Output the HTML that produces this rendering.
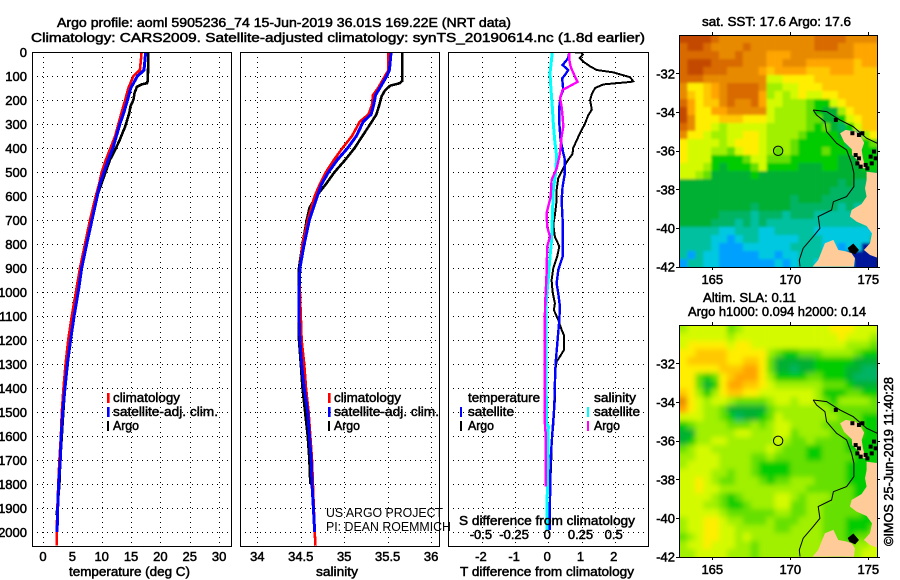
<!DOCTYPE html>
<html>
<head>
<meta charset="utf-8">
<title>Argo profile</title>
<style>
html,body{margin:0;padding:0;background:#fff;width:900px;height:580px;overflow:hidden}
svg{display:block}
text{font-family:"Liberation Sans",sans-serif;font-size:13px;fill:#000;stroke:#000;stroke-width:.5px}
</style>
</head>
<body>
<svg id="chart" xmlns="http://www.w3.org/2000/svg" width="900" height="580" viewBox="0 0 900 580">
<defs>
<clipPath id="clip-t"><rect x="32" y="52" width="199" height="494"/></clipPath>
<clipPath id="clip-s"><rect x="240" y="52" width="199" height="494"/></clipPath>
<clipPath id="clip-d"><rect x="448" y="52" width="200" height="494"/></clipPath>
<clipPath id="clip-m1"><rect x="679.5" y="35" width="198" height="232"/></clipPath>
<clipPath id="clip-m2"><rect x="679.5" y="325" width="198" height="232"/></clipPath>
<filter id="soft-sst" x="-5%" y="-5%" width="110%" height="110%"><feGaussianBlur stdDeviation="1.4"/></filter>
<filter id="soft-sla" x="-5%" y="-5%" width="110%" height="110%"><feGaussianBlur stdDeviation="2.6"/></filter>
</defs>
</svg>
<script>
// ---- profile data ----
const tempDepthArgo=[0,120,130,135,145,170,200,226,254,310,365,407,450,505,587,670,754,851,962,1000,1100,1200,1300,1400,1500,1600,1700,1800,1900,1930];
const tempArgo=[17.95,17.85,17.7,16.8,16.0,15.6,15.4,14.9,14.7,14.0,13.1,12.3,11.4,10.6,9.4,8.6,7.7,6.9,6.2,5.9,5.28,4.6,4.2,3.75,3.45,3.2,2.95,2.8,2.45,2.3];
const tempDepthClim=[0,30,75,100,150,200,250,300,350,400,450,500,550,600,700,800,900,1000,1100,1200,1300,1400,1500,1600,1700,1800,1900,2000,2057];
const tempClim=[16.8,16.7,16.5,15.4,14.55,14.0,13.4,12.85,12.3,11.5,10.7,10.0,9.55,9.0,8.0,7.15,6.3,5.6,4.9,4.3,3.85,3.5,3.2,3.05,2.8,2.6,2.45,2.33,2.33];
const tempDepthSat=[0,75,85,100,150,200,250,300,350,400,450,500,550,600,700,800,900,1000,1100,1200,1300,1400,1500,1600,1700,1800,1900,2000];
const tempSat=[17.5,17.2,16.8,16.1,14.95,14.4,13.8,13.1,12.5,11.9,11.1,10.4,9.7,9.25,8.35,7.45,6.6,6.0,5.3,4.7,4.15,3.75,3.35,3.1,2.95,2.65,2.5,2.4];

const salDepthArgo=[0,120,130,140,160,185,225,260,300,350,400,450,500,550,600,650,700,800,900,1000,1100,1200,1300,1400,1500,1600,1700,1800];
const salArgo=[35.67,35.67,35.64,35.53,35.47,35.43,35.4,35.37,35.3,35.21,35.12,35.01,34.89,34.79,34.68,34.6,34.57,34.52,34.48,34.48,34.48,34.48,34.5,34.52,34.55,34.58,34.6,34.61];
const salDepthClim=[0,75,100,150,180,220,260,290,350,400,450,500,550,600,700,800,900,1000,1100,1200,1300,1400,1500,1600,1700,1800,1900,2000,2057];
const salClim=[35.51,35.51,35.47,35.39,35.33,35.32,35.28,35.18,35.09,34.98,34.88,34.79,34.72,34.66,34.58,34.52,34.49,34.49,34.5,34.51,34.54,34.56,34.59,34.61,34.63,34.64,34.65,34.66,34.67];
const salDepthSat=[0,75,100,150,180,220,260,290,350,400,450,500,550,600,700,800,900,1000,1100,1200,1300,1400,1500,1600,1700,1800,1900,2000];
const salSat=[35.54,35.52,35.49,35.41,35.36,35.34,35.31,35.22,35.14,35.04,34.92,34.82,34.74,34.69,34.6,34.54,34.49,34.48,34.48,34.49,34.51,34.54,34.58,34.6,34.62,34.63,34.645,34.66];

const diffDepthArgoT=[0,3,10,25,40,60,75,85,105,122,125,135,150,175,200,240,265,300,340,370,400,425,455,485,525,575,620,680,720,770,810,850,900,950,1000,1047,1075,1117,1158,1179,1242,1269,1290,1339,1450,1554,1630,1755];
const diffArgoT=[0.7,1.0,1.04,0.95,1.05,1.26,1.46,1.96,2.46,2.56,2.46,1.66,1.41,1.31,1.26,1.31,1.2,1.1,0.95,0.85,0.75,0.73,0.57,0.45,0.3,0.25,0.25,0.2,0.15,0.2,0.33,0.27,0.15,0.1,0.13,0.2,0.17,0.3,0.4,0.47,0.47,0.35,0.25,0.2,0.2,0.15,0.1,0.08];
const diffDepthSatT=[3,26,54,75,96,110,158,186,228,297,367,408,450,505,561,617,700,853,908,964,1006,1061,1117,1214,1297,1380,1478,1589,1700,1866,1991];
const diffSatT=[0.63,0.6,0.43,0.6,0.5,0.42,0.45,0.37,0.33,0.33,0.37,0.43,0.5,0.5,0.43,0.4,0.43,0.43,0.3,0.25,0.3,0.35,0.33,0.27,0.22,0.2,0.18,0.12,0.07,0.05,0.04];
const diffDepthArgoS=[3,33,61,89,124,138,158,193,228,269,311,353,394,436,485,533,603,672,728,769,811,922,1061,1311,1519,1575,1589,1811];
const diffArgoS=[0.158,0.158,0.168,0.19,0.22,0.176,0.108,0.088,0.1,0.108,0.113,0.1,0.093,0.083,0.063,0.025,0.018,-0.013,-0.008,0.013,-0.008,-0.013,-0.025,-0.028,-0.028,-0.023,-0.018,-0.018];
const diffDepthSatS=[3,89,158,228,297,367,436,505,575,644,783,853,922,992,1061,1311,1547,1561,1728,1866,1991];
const diffSatS=[0.03,0.0125,0.02,0.03,0.038,0.048,0.063,0.055,0.038,0.033,0.025,0.0125,0.003,-0.008,-0.018,-0.018,-0.013,0,-0.005,-0.008,-0.008];

// ---- tick labels ----
const depthTicks=[0,100,200,300,400,500,600,700,800,900,1000,1100,1200,1300,1400,1500,1600,1700,1800,1900,2000];
const tempTicks=[0,5,10,15,20,25,30];
const salTicks=[34,34.5,35,35.5,36];
const diffTicks=[-2,-1,0,1,2];
const diffTickLabels=["-2","-1","0","1","2"];
const sDiffTicks=[-0.5,-0.25,0,0.25,0.5];
const sDiffTickLabels=["-0.5","-0.25","0","0.25","0.5"];
const lonTicks=[165,170,175];
const latTicks=[-32,-34,-36,-38,-40,-42];
const profileLon=[169.22];
const profileLat=[-36.01];

// ---- map data: colour level per cell, north to south ----
const levelColors=["#00129a","#00a0ff","#00c8e0","#00c0a0","#00b464","#00b030","#00cc00","#66e000","#a0f000","#d4fa00","#ffee00","#ffc800","#ffa500","#e88a00","#d86a00","#c44a00"];
const sstGrid=[
[15,15,15,15,14,13,13,13,13,13,13,13,13,13,13,13,13,14,14,14,14,13,13,13,13],
[14,15,15,14,13,13,13,13,14,13,13,13,13,13,13,13,13,14,14,14,13,13,12,12,12],
[14,14,14,14,14,13,13,14,13,13,13,12,12,12,13,13,13,13,13,13,13,13,12,12,12],
[14,15,15,15,14,14,14,14,13,13,13,12,12,13,13,13,12,12,12,12,12,12,11,12,12],
[14,15,15,14,14,14,13,13,13,13,12,11,12,12,12,12,11,11,11,12,12,12,11,11,11],
[14,14,14,13,13,13,13,13,13,13,13,9,9,10,10,10,10,11,11,11,11,11,11,11,11],
[13,10,10,11,12,13,14,14,14,14,13,8,8,9,9,10,10,10,11,11,11,11,11,11,11],
[13,11,10,11,12,13,14,14,14,14,12,8,9,8,9,10,9,9,10,10,11,11,11,11,11],
[14,12,10,11,11,13,14,13,13,14,12,9,9,8,8,8,7,6,6,9,10,11,11,11,11],
[15,12,10,10,12,12,13,13,13,13,13,9,8,8,8,8,7,6,5,5,8,10,11,11,11],
[15,13,10,10,10,11,11,11,10,10,10,9,8,8,8,8,7,7,5,5,6,9,10,11,11],
[14,13,10,10,9,8,9,9,9,9,9,8,8,8,8,8,7,6,7,5,4,6,9,11,11],
[13,10,10,9,8,8,9,9,10,10,9,8,8,8,8,7,6,6,6,6,5,4,4,8,10],
[10,9,9,9,9,8,9,10,10,10,9,8,8,8,7,6,6,6,6,6,6,4,4,6,7],
[10,9,9,9,8,8,7,9,10,10,9,8,7,8,7,6,6,6,7,6,6,6,5,6,6],
[10,9,9,9,6,6,6,6,7,9,9,7,7,7,6,6,6,6,6,6,5,5,5,6,6],
[9,9,9,8,6,5,6,6,6,7,9,6,6,6,6,5,5,5,6,6,5,5,5,6,6],
[9,9,8,7,5,5,5,5,5,6,5,5,5,5,5,5,5,5,5,5,5,5,5,5,5],
[5,5,5,5,5,5,5,5,5,5,5,5,5,5,5,5,5,5,5,5,4,5,4,4,4],
[5,5,5,5,5,5,5,5,5,5,5,5,5,5,5,5,5,5,5,4,4,4,4,4,4],
[5,5,5,5,5,5,5,5,5,5,5,5,5,5,4,5,5,5,4,4,4,4,4,4,4],
[5,5,5,5,5,5,5,5,5,4,5,5,5,5,4,4,4,4,4,4,3,4,3,3,3],
[5,5,5,5,5,4,4,4,4,3,4,4,4,3,4,4,4,3,3,3,3,3,3,3,3],
[5,5,5,5,4,4,4,3,4,3,4,3,3,3,3,3,3,3,3,3,3,3,3,3,3],
[3,3,3,3,3,2,2,3,3,3,2,2,3,3,3,3,3,2,2,2,2,2,2,2,2],
[3,3,3,3,2,2,1,2,3,3,2,2,2,2,2,3,3,3,2,2,2,2,2,2,3],
[3,3,3,3,2,1,1,1,2,2,2,2,2,2,3,3,3,3,2,2,1,2,2,0,0],
[3,1,3,2,2,1,1,1,1,1,2,2,1,2,2,3,3,3,3,2,2,0,0,0,0],
[1,3,3,2,2,1,1,1,1,1,1,1,2,1,2,3,3,2,2,3,3,2,0,0,0]
];
const slaGrid=[
[8,9,9,9,9,9,7,8,9,9,9,9,9,9,9,9,9,9,9,10,10,10,9,9,9],
[9,9,9,9,9,9,8,9,9,9,9,9,9,9,9,9,9,9,9,9,10,9,9,9,8],
[9,10,10,10,10,10,9,10,10,9,9,9,9,9,9,9,9,9,9,9,9,8,8,8,7],
[10,10,11,11,11,11,10,10,10,10,10,8,7,6,6,7,7,7,8,8,8,8,7,6,6],
[10,11,11,11,11,11,10,10,11,11,10,7,5,5,5,5,5,6,6,6,6,6,5,5,5],
[10,10,10,10,10,11,11,11,12,12,10,7,5,5,4,5,5,6,6,6,6,5,5,4,4],
[10,10,7,6,7,10,11,12,12,12,10,8,6,6,6,6,7,7,6,6,6,5,4,4,4],
[10,10,7,5,6,10,12,12,11,11,10,9,8,8,8,8,8,8,7,7,7,6,5,5,5],
[11,10,8,6,8,10,11,11,10,10,9,9,9,9,9,9,9,8,6,6,6,7,7,6,6],
[13,10,9,8,9,9,8,7,7,7,7,8,9,9,8,9,9,8,7,6,8,8,8,8,7],
[12,10,9,8,8,7,5,5,5,5,5,7,8,8,8,8,8,8,8,7,7,7,7,7,7],
[9,9,9,8,8,7,6,4,5,5,6,7,9,8,8,8,8,8,8,8,7,7,7,6,6],
[6,7,8,8,8,8,7,7,7,8,7,8,9,9,8,8,8,8,7,7,7,7,7,6,6],
[5,5,8,8,8,8,8,9,9,8,8,8,9,9,7,8,8,8,8,7,7,7,7,6,6],
[5,6,8,8,9,9,8,8,8,8,8,8,9,8,7,7,8,7,7,7,7,6,6,6,6],
[7,8,9,9,8,8,8,8,8,8,8,9,8,7,7,7,6,6,7,7,7,6,6,6,6],
[8,8,9,9,9,8,8,8,8,7,7,8,7,7,7,7,6,6,7,7,7,7,6,6,6],
[8,9,9,9,9,8,8,8,8,7,6,6,6,6,7,7,7,7,7,7,7,6,6,6,6],
[9,9,9,9,8,8,7,8,8,7,6,6,6,6,7,7,7,7,7,7,7,6,6,6,6],
[9,9,10,9,8,7,7,8,8,8,7,6,7,7,8,8,8,7,7,7,7,6,6,6,6],
[9,9,10,9,9,8,8,8,8,8,8,8,8,8,8,8,7,7,7,7,7,7,6,6,6],
[9,9,9,9,8,7,6,7,8,8,8,8,9,9,8,7,8,8,8,7,7,7,6,6,6],
[9,9,9,8,8,7,6,6,7,8,8,8,9,9,7,7,8,8,7,7,7,7,7,6,6],
[9,9,9,9,9,8,7,7,7,7,7,7,8,8,7,7,8,8,7,7,7,7,7,6,6],
[8,9,9,10,10,9,8,8,7,7,7,8,7,7,7,8,8,8,7,7,7,6,6,6,6],
[8,9,9,10,10,9,9,8,8,8,8,8,7,7,8,8,8,8,7,7,7,6,6,6,7],
[7,8,9,10,10,9,9,8,9,8,8,8,8,8,8,8,8,8,7,7,7,6,7,7,8],
[8,9,9,10,9,9,9,8,8,7,8,8,8,8,8,8,8,8,8,7,7,7,8,8,9],
[8,8,9,9,9,9,8,8,8,7,8,8,8,8,8,8,8,8,8,7,7,8,8,9,9]
];

// ---- geography: lon / lat ----
const landALon=[173.19,173.55,174.19,174.51,174.74,174.58,174.66,174.83,174.51,174.4,173.97,173.94,173.44];
const landALat=[-35.1,-34.93,-35.02,-35.28,-35.59,-35.97,-36.4,-36.91,-36.91,-36.57,-36.23,-35.93,-35.54];
const landBLon=[174.89,175.7,175.7,175.11,174.72,175.11,175.24,174.89,174.25,173.82,173.93,174.57,174.89,174.79,174.89];
const landBLat=[-37.09,-37.17,-41.57,-41.4,-41.14,-40.79,-40.28,-39.9,-39.67,-39.41,-39.07,-38.76,-38.38,-37.95,-37.52];
const landCLon=[171.43,171.79,172.22,172.76,173.08,173.61,173.93,174.15,174.08];
const landCLat=[-42.0,-41.66,-40.79,-40.62,-41.14,-41.22,-41.31,-41.57,-42.0];
const islandALon=[173.72,174.04,174.36,174.15,173.82];
const islandALat=[-41.05,-40.84,-41.14,-41.34,-41.22];
const speckleLon=[174.19,174.4,174.3,174.51,174.83,175.15,175.36,175.22,175.47,174.94,172.92,173.98,174.4,174.62];
const speckleLat=[-36.23,-36.4,-36.66,-36.83,-36.74,-36.31,-36.05,-36.66,-36.4,-36.92,-34.41,-35.1,-35.19,-35.1];
const contourALon=[171.47,171.69,172.22,172.33,172.97,173.61,173.93,174.08,174.08,173.61,172.76,172.65,171.79,171.9,171.47,170.83,170.58,170.62];
const contourALat=[-33.9,-34.16,-34.5,-35.02,-35.62,-35.97,-36.66,-37.17,-37.86,-38.38,-38.64,-39.07,-39.41,-40.02,-40.45,-41.05,-41.66,-42];
const contourBLon=[171.47,172.33,173.18,174.04,174.89,175.58];
const contourBLat=[-33.9,-33.98,-34.41,-34.76,-35.36,-35.62];

// ---- helpers ----
const NS="http://www.w3.org/2000/svg";
const svg=document.getElementById("chart");
function el(tag,attrs,parent){
  const e=document.createElementNS(NS,tag);
  for(const k in attrs)e.setAttribute(k,attrs[k]);
  (parent||svg).appendChild(e);
  return e;
}
function txt(s,x,y,anchor,width,parent){
  const a={x:x,y:y,"text-anchor":anchor||"start"};
  if(width){a.textLength=width;a.lengthAdjust="spacingAndGlyphs";}
  const e=el("text",a,parent);
  e.textContent=s;
  return e;
}
const yD=d=>52+d*0.24;
const xT=v=>43+v*5.87;
const xS=v=>257.3+(v-34)*86.9;
const xDT=v=>548.3+v*33.2;
const xDS=v=>548.3+v*132.8;
const xLon=v=>712.3+(v-165)*15.6;
const yLat1=v=>73.3+(-32-v)*19.33;
const yLat2=v=>363.3+(-32-v)*19.33;

function panelFrame(name,x,w,vals,xf){
  const g=el("g",{});
  
  
  depthTicks.forEach(d=>{
    if(d===0)return;
    el("line",{x1:x,x2:x+w,y1:Math.round(yD(d))+.5,y2:Math.round(yD(d))+.5,stroke:"#000","stroke-dasharray":"1 4"},g);
  });
  vals.forEach(v=>{
    el("line",{x1:Math.round(xf(v))+.5,x2:Math.round(xf(v))+.5,y1:52,y2:545,stroke:"#000","stroke-dasharray":"1 4"},g);
  });
}
function frame(name,x,y,w,h){
  const r=el("rect",{x:x+.5,y:y+.5,width:w,height:h,fill:"none",stroke:"#000","stroke-width":1});
  
  
}
function profile(name,xs,ds,xf,color,w,clip){
  const pts=xs.map((v,i)=>xf(v).toFixed(1)+","+yD(ds[i]).toFixed(1)).join(" ");
  const p=el("polyline",{points:pts,fill:"none",stroke:color,"stroke-width":w,"clip-path":"url(#"+clip+")","shape-rendering":"crispEdges","stroke-linejoin":"miter"});
  
  
}
function legendMark(name,x,y,color,w){
  const r=el("rect",{x:x,y:y,width:w||2,height:10,fill:color});
  
  
}
function label(name,s,x,y,anchor,width){
  const t=txt(s,x,y,anchor,width);
  
  
  return t;
}

// ---- titles ----
label('title-line-1',"Argo profile: aoml 5905236_74 15-Jun-2019 36.01S 169.22E (NRT data)",57,27,"start",454);
label('title-line-2',"Climatology: CARS2009. Satellite-adjusted climatology: synTS_20190614.nc (1.8d earlier)",31,42,"start",614);

// ---- temperature panel ----
panelFrame('temperature-panel',32,199,tempTicks,xT);
profile('temperature-argo-line',tempArgo,tempDepthArgo,xT,"#000",2.6,"clip-t");
profile('temperature-climatology-line',tempClim,tempDepthClim,xT,"#f00",2.6,"clip-t");
profile('temperature-satellite-line',tempSat,tempDepthSat,xT,"#00f",3,"clip-t");
frame('temperature-panel',32,52,199,494);
depthTicks.forEach(d=>{
  const t=txt(String(d),27,yD(d)+5,"end");
  
  
});
tempTicks.forEach(v=>{
  const t=txt(String(v),xT(v),561,"middle");
  
  
});
label('temperature-axis-title',"temperature (deg C)",69,576,"start",121);
legendMark('legend-climatology-mark',107,393,"#f00",2.6);
label('legend-climatology-label',"climatology",113,402,"start",67);
legendMark('legend-satellite-mark',107,407,"#00f",2.6);
label('legend-satellite-label',"satellite-adj. clim.",113,416,"start",105);
legendMark('legend-argo-mark',107,421,"#000",2);
label('legend-argo-label',"Argo",113,430,"start",26);

// ---- salinity panel ----
panelFrame('salinity-panel',240,199,salTicks,xS);
profile('salinity-argo-line',salArgo,salDepthArgo,xS,"#000",2.6,"clip-s");
profile('salinity-climatology-line',salClim,salDepthClim,xS,"#f00",2.6,"clip-s");
profile('salinity-satellite-line',salSat,salDepthSat,xS,"#00f",3,"clip-s");
frame('salinity-panel',240,52,199,494);
salTicks.forEach(v=>{
  const t=txt(String(v),xS(v),561,"middle");
  
  
});
label('salinity-axis-title',"salinity",316,576,"start",42);
legendMark('salinity-legend-climatology-mark',328,393,"#f00",2.6);
label('salinity-legend-climatology-label',"climatology",334,402,"start",67);
legendMark('salinity-legend-satellite-mark',328,407,"#00f",2.6);
label('salinity-legend-satellite-label',"satellite-adj. clim.",334,416,"start",105);
legendMark('salinity-legend-argo-mark',328,421,"#000",2);
label('salinity-legend-argo-label',"Argo",334,430,"start",26);
const pj=label('project-label',"US ARGO PROJECT",326,517,"start",117);
pj.setAttribute('style','stroke-width:0;font-size:13px');
const pi=label('pi-label',"PI: DEAN ROEMMICH",326,531,"start",125);
pi.setAttribute('style','stroke-width:0;font-size:13px');

// ---- difference panel ----
panelFrame('difference-panel',448,200,diffTicks,xDT);
profile('difference-temperature-argo-line',diffArgoT,diffDepthArgoT,xDT,"#000",2,"clip-d");
profile('difference-temperature-satellite-line',diffSatT,diffDepthSatT,xDT,"#00f",2.4,"clip-d");
profile('difference-salinity-satellite-line',diffSatS,diffDepthSatS,xDS,"#0ff",3,"clip-d");
profile('difference-salinity-argo-line',diffArgoS,diffDepthArgoS,xDS,"#f0f",2.4,"clip-d");
frame('difference-panel',448,52,200,494);
diffTicks.forEach((v,i)=>{
  const t=txt(diffTickLabels[i],xDT(v)-1,561,"middle");
  
  
});
sDiffTicks.forEach((v,i)=>{
  const t=txt(sDiffTickLabels[i],xDS(v)-1,539,"middle");
  
  
});
label('s-difference-axis-title',"S difference from climatology",459,525,"start",176);
label('t-difference-axis-title',"T difference from climatology",460,576,"start",174);
label('difference-legend-temperature-heading',"temperature",468,402,"start",72);
legendMark('difference-legend-t-satellite-mark',460,407,"#00f",2);
label('difference-legend-t-satellite-label',"satellite",468,416,"start",46);
legendMark('difference-legend-t-argo-mark',460,421,"#000",2);
label('difference-legend-t-argo-label',"Argo",468,430,"start",26);
label('difference-legend-salinity-heading',"salinity",594,402,"start",42);
legendMark('difference-legend-s-satellite-mark',587,407,"#0ff",2);
label('difference-legend-s-satellite-label',"satellite",594,416,"start",46);
legendMark('difference-legend-s-argo-mark',587,421,"#f0f",2);
label('difference-legend-s-argo-label',"Argo",594,430,"start",26);

// ---- maps ----
function cells(name,grid,top,filter,parent){
  const g=el("g",{filter:"url(#"+filter+")"},parent);
  
  
  const rows=grid.length,cols=grid[0].length,cw=198/cols,ch=232/rows,bleed=8;
  grid.forEach((row,r)=>row.forEach((v,c)=>{
    const x=679.5+c*cw-(c===0?bleed:0);
    const y=top+r*ch-(r===0?bleed:0);
    const w=cw+.3+(c===0||c===cols-1?bleed:0);
    const h=ch+.3+(r===0||r===rows-1?bleed:0);
    const cell=el("rect",{x:x.toFixed(2),y:y.toFixed(2),width:w.toFixed(2),height:h.toFixed(2),fill:levelColors[v]},g);
    
    
  }));
}
function poly(parent,lons,lats,yf,fill,stroke,tag){
  return el(tag,{points:lons.map((v,i)=>xLon(v).toFixed(1)+","+yf(lats[i]).toFixed(1)).join(" "),fill:fill,stroke:stroke,"stroke-width":1},parent);
}
function map(prefix,grid,top,yf,clip,filter){
  const bg=el("g",{"clip-path":"url(#"+clip+")"});
  
  
  cells(prefix+'-heatmap',grid,top,filter,bg);
  const a=poly(bg,landALon,landALat,yf,"#ffcc99","none","polygon");
  
  
  const b=poly(bg,landBLon,landBLat,yf,"#ffcc99","none","polygon");
  
  
  const c=poly(bg,landCLon,landCLat,yf,"#ffcc99","none","polygon");
  
  
  const d=poly(bg,islandALon,islandALat,yf,"#000","#000","polygon");
  
  
  speckleLon.forEach((v,i)=>{
    const s=el("rect",{x:xLon(v)-2,y:yf(speckleLat[i])-2,width:4,height:4,fill:"#000"},bg);
    
    
  });
  const f=poly(bg,contourALon,contourALat,yf,"none","#000","polyline");
  
  
  const h=poly(bg,contourBLon,contourBLat,yf,"none","#000","polyline");
  
  
  profileLon.forEach((v,i)=>{
    const m=el("circle",{cx:xLon(v),cy:yf(profileLat[i]),r:4.7,fill:"none",stroke:"#000","stroke-width":1},bg);
    
    
  });
  frame(prefix+'-map',679,top,198,232);
  lonTicks.forEach(v=>{
    const x=Math.round(xLon(v))+.5;
    const t1=el("line",{x1:x,x2:x,y1:top-3,y2:top,stroke:"#000"});
    
    
    const t2=el("line",{x1:x,x2:x,y1:top+232,y2:top+235,stroke:"#000"});
    
    
    const l=txt(String(v),xLon(v),top+249,"middle");
    
    
  });
  latTicks.forEach(v=>{
    const y=Math.round(yf(v))+.5;
    const t1=el("line",{x1:676,x2:679,y1:y,y2:y,stroke:"#000"});
    
    
    const t2=el("line",{x1:877,x2:880,y1:y,y2:y,stroke:"#000"});
    
    
    const l=txt(String(v),675,yf(v)+5,"end");
    
    
  });
}
map('sst',sstGrid,35,yLat1,'clip-m1','soft-sst');
map('altimetry',slaGrid,325,yLat2,'clip-m2','soft-sla');
label('sst-map-title',"sat. SST: 17.6 Argo: 17.6",702,26,"start",149);
label('altimetry-map-title-line-1',"Altim. SLA: 0.11",703,302,"start",93);
label('altimetry-map-title-line-2',"Argo h1000: 0.094 h2000: 0.14",688,316,"start",178);
const stamp=txt("©IMOS 25-Jun-2019 11:40:28",0,0,"start",169);
stamp.setAttribute('transform','translate(893,546) rotate(-90)');


</script>
</body>
</html>
